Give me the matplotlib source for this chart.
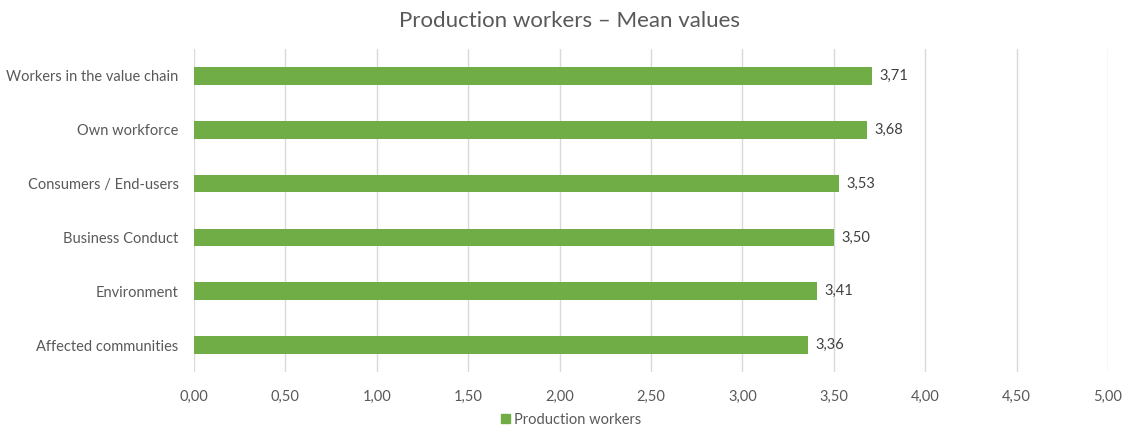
import matplotlib
matplotlib.use("Agg")
import matplotlib.pyplot as plt
from matplotlib.patches import Patch

# chart data
categories = ["Workers in the value chain", "Own workforce", "Consumers / End-users",
              "Business Conduct", "Environment", "Affected communities"]
values = [3.71, 3.68, 3.53, 3.50, 3.41, 3.36]
xticks = [0.0, 0.5, 1.0, 1.5, 2.0, 2.5, 3.0, 3.5, 4.0, 4.5, 5.0]
series_name = "Production workers"

plt.rcParams["font.family"] = ["Lato", "DejaVu Sans"]
text_col = "#595959"
bar_col = "#70AD47"
grid_col = "#D9D9D9"

fig = plt.figure(figsize=(11.27, 4.30), dpi=100)
ax = fig.add_axes([0.1721, 0.135, 0.8110, 0.751])

pos = list(range(len(categories)))
ax.barh(pos, values, height=0.33, color=bar_col, zorder=3)
for p, v in zip(pos, values):
    ax.text(v + 0.04, p, f"{v:.2f}".replace(".", ","), va="center", ha="left",
            fontsize=10.5, color="#404040")

ax.set_yticks(pos)
ax.set_yticklabels(categories)
ax.set_ylim(len(categories) - 0.5, -0.5)
ax.set_xlim(0, 5)
ax.set_xticks(xticks)
ax.set_xticklabels([f"{t:.2f}".replace(".", ",") for t in xticks])
ax.tick_params(axis="both", length=0, labelsize=10.5, labelcolor=text_col)
ax.tick_params(axis="y", pad=11)
ax.tick_params(axis="x", pad=13)
ax.grid(axis="x", color=grid_col, linewidth=1, zorder=0)
for s in ax.spines.values():
    s.set_visible(False)

fig.suptitle("Production workers \u2013 Mean values", x=0.505, y=0.975, fontsize=16, color=text_col)
fig.legend(handles=[Patch(color=bar_col, label=series_name)], loc="center",
           bbox_to_anchor=(0.507, 0.024), frameon=False, fontsize=10.5,
           labelcolor=text_col, handlelength=0.6, handleheight=0.6, handletextpad=0.3)

fig.savefig("out.png", dpi=100)
